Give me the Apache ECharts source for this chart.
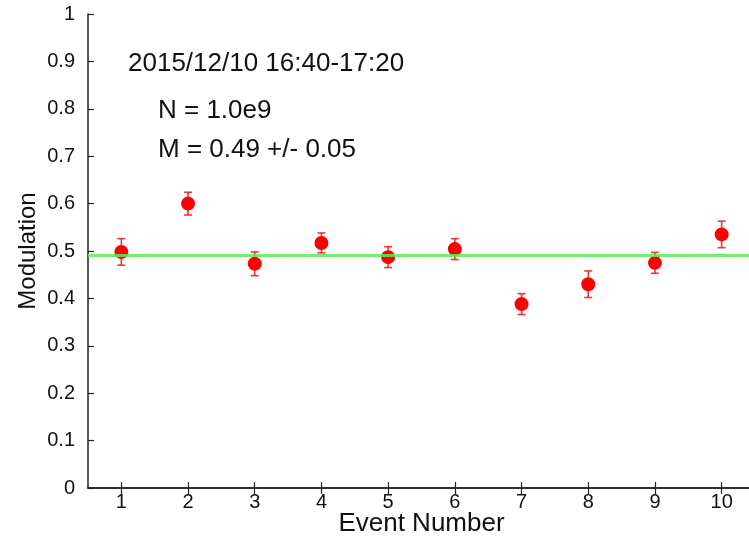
<!DOCTYPE html>
<html>
<head>
<meta charset="utf-8">
<script src="https://cdn.jsdelivr.net/npm/echarts@6/dist/echarts.min.js"></script>
<style>
  html, body { margin: 0; padding: 0; background: #fff; }
  #chart { width: 749px; height: 536px; }
</style>
</head>
<body>
<div id="chart"></div>
<script>
// Event numbers along the x axis
const events = ['1', '2', '3', '4', '5', '6', '7', '8', '9', '10'];
// Measured modulation per event
const modulation = [0.498, 0.600, 0.473, 0.517, 0.487, 0.504, 0.388, 0.430, 0.475, 0.535];
// Symmetric uncertainty per event
const modErr = [0.028, 0.024, 0.025, 0.021, 0.022, 0.022, 0.022, 0.028, 0.022, 0.028];
// Weighted mean modulation
const meanModulation = 0.49;
// Annotation lines
const dateLabel = '2015/12/10 16:40-17:20';
const countLabel = 'N = 1.0e9';
const meanLabel = 'M = 0.49 +/- 0.05';

const FONT = 'Liberation Sans, Arial, Helvetica, sans-serif';
const axisColor = '#222';

const chart = echarts.init(document.getElementById('chart'));

const errData = events.map((e, i) => [i, modulation[i] - modErr[i], modulation[i] + modErr[i]]);

const option = {
  backgroundColor: '#fff',
  animation: false,
  grid: { left: 88, top: 14, right: -6, bottom: 48, containLabel: false, outerBoundsMode: 'none' },
  xAxis: [
    {
      type: 'category',
      data: events,
      boundaryGap: true,
      name: 'Event Number',
      nameLocation: 'middle',
      nameGap: 23,
      nameMoveOverlap: false,
      nameTextStyle: { fontFamily: FONT, fontSize: 26, color: '#111' },
      axisLine: { show: true, lineStyle: { color: axisColor, width: 1.5 } },
      axisTick: { show: true, inside: true, length: 6, alignWithLabel: true, lineStyle: { color: axisColor, width: 1.2 } },
      axisLabel: { fontFamily: FONT, fontSize: 20, color: '#111', margin: 4 },
      splitLine: { show: false }
    },
    {
      type: 'category',
      data: events,
      position: 'top',
      boundaryGap: true,
      axisLine: { show: true, lineStyle: { color: axisColor, width: 1.5 } },
      axisTick: { show: true, inside: true, length: 6, alignWithLabel: true, lineStyle: { color: axisColor, width: 1.2 } },
      axisLabel: { show: false },
      splitLine: { show: false }
    }
  ],
  yAxis: [
    {
      type: 'value',
      min: 0,
      max: 1,
      interval: 0.1,
      name: 'Modulation',
      nameLocation: 'middle',
      nameGap: 48,
      nameMoveOverlap: false,
      nameTextStyle: { fontFamily: FONT, fontSize: 24, color: '#111' },
      axisLine: { show: true, lineStyle: { color: axisColor, width: 1.5 } },
      axisTick: { show: true, inside: true, length: 6, lineStyle: { color: axisColor, width: 1.2 } },
      axisLabel: {
        fontFamily: FONT, fontSize: 20, color: '#111', margin: 13,
        formatter: v => String(+v.toFixed(1))
      },
      splitLine: { show: false }
    },
    {
      type: 'value',
      min: 0,
      max: 1,
      interval: 0.1,
      position: 'right',
      axisLine: { show: true, lineStyle: { color: axisColor, width: 1.5 } },
      axisTick: { show: true, inside: true, length: 6, lineStyle: { color: axisColor, width: 1.2 } },
      axisLabel: { show: false },
      splitLine: { show: false }
    }
  ],
  series: [
    {
      // error bars with caps
      type: 'custom',
      xAxisIndex: 0,
      yAxisIndex: 0,
      data: errData,
      z: 2,
      renderItem: function (params, api) {
        const x = api.value(0);
        const lo = api.coord([x, api.value(1)]);
        const hi = api.coord([x, api.value(2)]);
        const cap = 4;
        const style = { stroke: 'rgba(240,20,20,0.85)', lineWidth: 1.6, fill: null };
        return {
          type: 'group',
          children: [
            { type: 'line', shape: { x1: lo[0], y1: lo[1], x2: hi[0], y2: hi[1] }, style },
            { type: 'line', shape: { x1: lo[0] - cap, y1: lo[1], x2: lo[0] + cap, y2: lo[1] }, style },
            { type: 'line', shape: { x1: hi[0] - cap, y1: hi[1], x2: hi[0] + cap, y2: hi[1] }, style }
          ]
        };
      }
    },
    {
      type: 'scatter',
      xAxisIndex: 0,
      yAxisIndex: 0,
      data: modulation.map((v, i) => [i, v]),
      symbol: 'circle',
      symbolSize: 14,
      itemStyle: { color: '#ff0000', opacity: 1 },
      z: 3
    },
    {
      // mean modulation reference line
      type: 'line',
      xAxisIndex: 0,
      yAxisIndex: 0,
      data: [],
      z: 4,
      markLine: {
        silent: true,
        symbol: 'none',
        label: { show: false },
        lineStyle: { color: 'rgba(90,235,90,0.85)', width: 3, type: 'solid' },
        data: [{ yAxis: meanModulation }]
      }
    }
  ],
  graphic: [
    { type: 'text', left: 128, top: 51, style: { text: dateLabel, font: '26px ' + FONT, fill: '#111' } },
    { type: 'text', left: 158, top: 98, style: { text: countLabel, font: '26px ' + FONT, fill: '#111' } },
    { type: 'text', left: 158, top: 137, style: { text: meanLabel, font: '26px ' + FONT, fill: '#111' } }
  ]
};

chart.setOption(option);
</script>
</body>
</html>
